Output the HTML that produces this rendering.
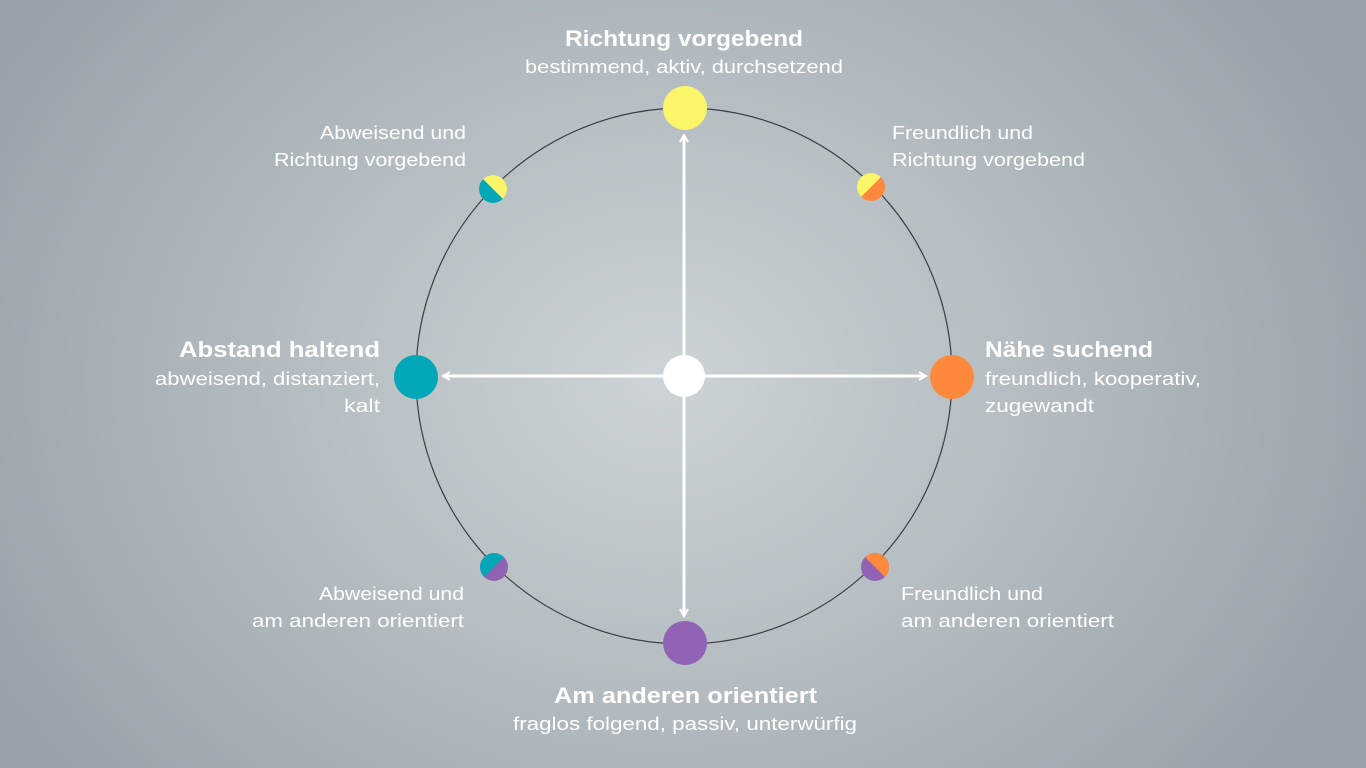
<!DOCTYPE html>
<html><head><meta charset="utf-8"><style>
html,body{margin:0;padding:0;width:1366px;height:768px;overflow:hidden}
body{background:radial-gradient(ellipse 760px 620px at 660px 380px,#cdd3d6 0%,#b4bcc1 50%,#98a2a8 100%)}
svg{position:absolute;left:0;top:0}
text{font-family:"Liberation Sans","DejaVu Sans",sans-serif;fill:#fff}
.b{font-weight:bold;font-size:22px}
.r{font-size:18.5px}
</style></head><body>
<svg width="1366" height="768" viewBox="0 0 1366 768">
<defs>
<marker id="ah" markerWidth="10" markerHeight="10" refX="8" refY="5" orient="auto" markerUnits="userSpaceOnUse">
<path d="M1,1 L8,5 L1,9" fill="none" stroke="#fff" stroke-width="2"/>
</marker>
</defs>
<circle cx="684" cy="376" r="268" fill="none" stroke="#3a3e44" stroke-width="1.2"/>
<g stroke="#fff" stroke-width="3" fill="none">
<line x1="684" y1="376" x2="684" y2="135" marker-end="url(#ah)"/>
<line x1="684" y1="376" x2="684" y2="616" marker-end="url(#ah)"/>
<line x1="684" y1="376" x2="443" y2="376" marker-end="url(#ah)"/>
<line x1="684" y1="376" x2="926" y2="376" marker-end="url(#ah)"/>
</g>
<circle cx="684" cy="376" r="21" fill="#fff"/>
<circle cx="685" cy="108" r="22" fill="#fbf56a"/>
<circle cx="685" cy="643" r="22" fill="#9163b4"/>
<circle cx="416" cy="377" r="22" fill="#03a8b8"/>
<circle cx="952" cy="377" r="22" fill="#fd8a3c"/>
<g transform="translate(493,189)"><circle r="14" fill="#03a8b8"/><path d="M-14 0 A14 14 0 0 1 14 0Z" fill="#fbf56a" transform="rotate(45)"/></g>
<g transform="translate(871,187)"><circle r="14" fill="#fd8a3c"/><path d="M-14 0 A14 14 0 0 1 14 0Z" fill="#fbf56a" transform="rotate(-45)"/></g>
<g transform="translate(494,567)"><circle r="14" fill="#9163b4"/><path d="M-14 0 A14 14 0 0 1 14 0Z" fill="#03a8b8" transform="rotate(-45)"/></g>
<g transform="translate(875,567)"><circle r="14" fill="#9163b4"/><path d="M-14 0 A14 14 0 0 1 14 0Z" fill="#fd8a3c" transform="rotate(45)"/></g>

<text class="b" x="565" y="46" textLength="238" lengthAdjust="spacingAndGlyphs">Richtung vorgebend</text>
<text class="r" x="525" y="73" textLength="318" lengthAdjust="spacingAndGlyphs">bestimmend, aktiv, durchsetzend</text>

<text class="r" x="320" y="139" textLength="146" lengthAdjust="spacingAndGlyphs">Abweisend und</text>
<text class="r" x="274" y="166" textLength="192" lengthAdjust="spacingAndGlyphs">Richtung vorgebend</text>

<text class="r" x="892" y="139" textLength="141" lengthAdjust="spacingAndGlyphs">Freundlich und</text>
<text class="r" x="892" y="166" textLength="193" lengthAdjust="spacingAndGlyphs">Richtung vorgebend</text>

<text class="b" x="179" y="357" textLength="201" lengthAdjust="spacingAndGlyphs">Abstand haltend</text>
<text class="r" x="155" y="385" textLength="225" lengthAdjust="spacingAndGlyphs">abweisend, distanziert,</text>
<text class="r" x="344" y="412" textLength="36" lengthAdjust="spacingAndGlyphs">kalt</text>

<text class="b" x="985" y="357" textLength="168" lengthAdjust="spacingAndGlyphs">Nähe suchend</text>
<text class="r" x="985" y="385" textLength="216" lengthAdjust="spacingAndGlyphs">freundlich, kooperativ,</text>
<text class="r" x="985" y="412" textLength="109" lengthAdjust="spacingAndGlyphs">zugewandt</text>

<text class="r" x="319" y="600" textLength="145" lengthAdjust="spacingAndGlyphs">Abweisend und</text>
<text class="r" x="252" y="627" textLength="212" lengthAdjust="spacingAndGlyphs">am anderen orientiert</text>

<text class="r" x="901" y="600" textLength="142" lengthAdjust="spacingAndGlyphs">Freundlich und</text>
<text class="r" x="901" y="627" textLength="213" lengthAdjust="spacingAndGlyphs">am anderen orientiert</text>

<text class="b" x="554" y="703" textLength="263" lengthAdjust="spacingAndGlyphs">Am anderen orientiert</text>
<text class="r" x="513" y="730" textLength="344" lengthAdjust="spacingAndGlyphs">fraglos folgend, passiv, unterwürfig</text>
</svg>
</body></html>
